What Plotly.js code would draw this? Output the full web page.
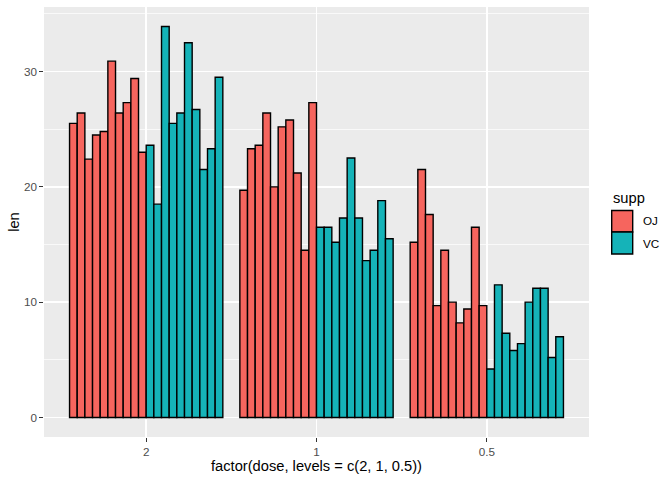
<!DOCTYPE html>
<html>
<head>
<meta charset="utf-8">
<script src="https://cdn.plot.ly/plotly-3.0.1.min.js"></script>
<style>html,body{margin:0;padding:0;background:#fff;}#chart{width:672px;height:480px;}</style>
</head>
<body>
<div id="chart"></div>
<script>
// ToothGrowth: tooth length by dose (order 2, 1, 0.5) and supplement
const doseLevels = ['2', '1', '0.5'];
const suppNames = ['OJ', 'VC'];
const suppColors = ['#F6655E', '#15B3B8'];

const ojDose2  = [25.5, 26.4, 22.4, 24.5, 24.8, 30.9, 26.4, 27.3, 29.4, 23.0];
const ojDose1  = [19.7, 23.3, 23.6, 26.4, 20.0, 25.2, 25.8, 21.2, 14.5, 27.3];
const ojDose05 = [15.2, 21.5, 17.6, 9.7, 14.5, 10.0, 8.2, 9.4, 16.5, 9.7];

const vcDose2  = [23.6, 18.5, 33.9, 25.5, 26.4, 32.5, 26.7, 21.5, 23.3, 29.5];
const vcDose1  = [16.5, 16.5, 15.2, 17.3, 22.5, 17.3, 13.6, 14.5, 18.8, 15.5];
const vcDose05 = [4.2, 11.5, 7.3, 5.8, 6.4, 10.0, 11.2, 11.2, 5.2, 7.0];

const yTicks = [0, 10, 20, 30];

const groups = [
  {name: 'OJ', color: suppColors[0], byDose: [ojDose2, ojDose1, ojDose05]},
  {name: 'VC', color: suppColors[1], byDose: [vcDose2, vcDose1, vcDose05]}
];

const traces = [];
groups.forEach(g => {
  for (let i = 0; i < g.byDose[0].length; i++) {
    traces.push({
      type: 'bar',
      x: doseLevels,
      y: g.byDose.map(arr => arr[i]),
      name: g.name,
      showlegend: false,
      marker: {color: g.color, line: {color: '#000000', width: 1.4}},
      hoverinfo: 'x+y+name'
    });
  }
});

// plot area in pixels: x 44..589, y 7..437
const L = 44, R = 589, T = 7, B = 437;
const px = v => (v - L) / (R - L);
const py = v => (B - v) / (B - T);

const font = 'Liberation Sans, Arial, Helvetica, sans-serif';

const layout = {
  width: 672, height: 480,
  margin: {l: L, r: 672 - R, t: T, b: 480 - B, pad: 0},
  paper_bgcolor: '#FFFFFF',
  plot_bgcolor: '#EBEBEB',
  font: {family: font, color: '#000000'},
  barmode: 'group',
  bargap: 0.1,
  bargroupgap: 0,
  showlegend: false,
  xaxis: {
    type: 'category',
    categoryorder: 'array',
    categoryarray: doseLevels,
    range: [-0.6, 2.6],
    showgrid: true, gridcolor: '#FFFFFF', gridwidth: 1.4,
    zeroline: false, showline: false,
    ticks: 'outside', ticklen: 3.7, tickwidth: 1.07, tickcolor: '#333333',
    tickfont: {size: 11.7, color: '#4D4D4D', family: font},
    title: {text: 'factor(dose, levels = c(2, 1, 0.5))', font: {size: 14.7, color: '#000000', family: font}, standoff: 3}
  },
  yaxis: {
    range: [-1.695, 35.595],
    tickvals: yTicks,
    ticktext: yTicks.map(String),
    showgrid: true, gridcolor: '#FFFFFF', gridwidth: 1.4,
    minor: {dtick: 5, tick0: 0, showgrid: true, gridcolor: '#FFFFFF', gridwidth: 0.7, ticks: ''},
    zeroline: false, showline: false,
    ticks: 'outside', ticklen: 3.7, tickwidth: 1.07, tickcolor: '#333333',
    tickfont: {size: 11.7, color: '#4D4D4D', family: font},
    title: {text: 'len', font: {size: 14.7, color: '#000000', family: font}, standoff: 0}
  },
  shapes: [
    {type: 'rect', xref: 'paper', yref: 'paper', x0: px(611.7), x1: px(632.7), y0: py(232), y1: py(210.5),
     fillcolor: suppColors[0], line: {color: '#000000', width: 1.4}},
    {type: 'rect', xref: 'paper', yref: 'paper', x0: px(611.7), x1: px(632.7), y0: py(254), y1: py(232),
     fillcolor: suppColors[1], line: {color: '#000000', width: 1.4}}
  ],
  annotations: [
    {xref: 'paper', yref: 'paper', x: px(611), y: py(197.5), xanchor: 'left', yanchor: 'middle',
     text: 'supp', showarrow: false, font: {size: 14.7, color: '#000000', family: font}},
    {xref: 'paper', yref: 'paper', x: px(641), y: py(221), xanchor: 'left', yanchor: 'middle',
     text: suppNames[0], showarrow: false, font: {size: 11.7, color: '#000000', family: font}},
    {xref: 'paper', yref: 'paper', x: px(641), y: py(243), xanchor: 'left', yanchor: 'middle',
     text: suppNames[1], showarrow: false, font: {size: 11.7, color: '#000000', family: font}}
  ]
};

Plotly.newPlot('chart', traces, layout, {displayModeBar: false, staticPlot: true});
</script>
</body>
</html>
